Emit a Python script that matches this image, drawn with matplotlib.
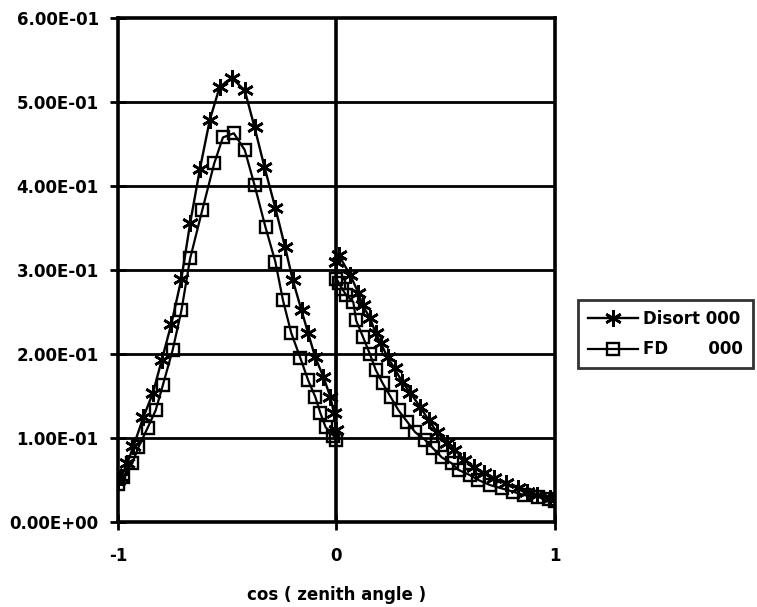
import matplotlib
matplotlib.use("Agg")
import matplotlib.pyplot as plt
from matplotlib.ticker import FixedLocator

# Disort 000
disort_x = [-1.0, -0.986, -0.958, -0.93, -0.884, -0.84, -0.80, -0.756, -0.71, -0.67,
            -0.625, -0.58, -0.535, -0.48, -0.42, -0.375, -0.33, -0.28, -0.235, -0.20,
            -0.16, -0.13, -0.097, -0.06, -0.028, -0.012, -0.003,
            0.0, 0.01, 0.063, 0.10, 0.12, 0.153, 0.18, 0.203, 0.234, 0.266, 0.30,
            0.338, 0.383, 0.423, 0.46, 0.505, 0.54, 0.586, 0.63, 0.676, 0.72,
            0.775, 0.83, 0.874, 0.92, 0.977, 1.0]
disort_y = [0.050, 0.054, 0.070, 0.090, 0.125, 0.154, 0.193, 0.236, 0.290, 0.356,
            0.421, 0.479, 0.518, 0.529, 0.514, 0.470, 0.423, 0.374, 0.327, 0.288,
            0.252, 0.225, 0.196, 0.173, 0.149, 0.130, 0.110,
            0.310, 0.318, 0.294, 0.273, 0.258, 0.243, 0.225, 0.213, 0.196, 0.183, 0.167,
            0.154, 0.137, 0.121, 0.107, 0.094, 0.086, 0.074, 0.065, 0.058, 0.052,
            0.046, 0.040, 0.036, 0.032, 0.029, 0.027]

# FD 000
fd_x = [-1.0, -0.977, -0.935, -0.907, -0.865, -0.828, -0.795, -0.75, -0.71, -0.67,
        -0.615, -0.56, -0.52, -0.47, -0.42, -0.375, -0.325, -0.28, -0.245, -0.207,
        -0.165, -0.13, -0.097, -0.074, -0.05, -0.014, -0.004,
        0.0, 0.01, 0.025, 0.045, 0.077, 0.09, 0.122, 0.153, 0.18, 0.212, 0.248,
        0.284, 0.325, 0.36, 0.405, 0.441, 0.482, 0.527, 0.559, 0.61, 0.65,
        0.703, 0.757, 0.81, 0.86, 0.923, 0.973, 1.0]
fd_y = [0.045, 0.054, 0.070, 0.089, 0.112, 0.133, 0.163, 0.205, 0.252, 0.314,
        0.371, 0.427, 0.458, 0.463, 0.443, 0.401, 0.351, 0.310, 0.264, 0.225,
        0.195, 0.169, 0.149, 0.130, 0.113, 0.103, 0.098,
        0.290, 0.285, 0.278, 0.270, 0.262, 0.240, 0.220, 0.200, 0.181, 0.165, 0.149,
        0.133, 0.119, 0.107, 0.098, 0.088, 0.077, 0.070, 0.062, 0.056, 0.050,
        0.044, 0.040, 0.036, 0.032, 0.030, 0.027, 0.025]

y_ticks = [0.0, 0.1, 0.2, 0.3, 0.4, 0.5, 0.6]
y_tick_labels = ["0.00E+00", "1.00E-01", "2.00E-01", "3.00E-01", "4.00E-01", "5.00E-01", "6.00E-01"]
x_ticks = [-1, 0, 1]
x_tick_labels = ["-1", "0", "1"]

plt.rcParams['font.family'] = ['DejaVu Sans']
plt.rcParams['font.weight'] = 'bold'
FS = 12

fig = plt.figure(figsize=(7.57, 6.07), dpi=100)
ax = fig.add_axes([0.156, 0.140, 0.577, 0.830])

ax.set_xlim(-1, 1)
ax.set_ylim(0, 0.6)

for y in y_ticks[1:-1]:
    ax.axhline(y, color='black', lw=2.0, zorder=1)
ax.axvline(0, color='black', lw=2.6, zorder=1)

ax.plot(disort_x, disort_y, color='black', lw=1.7, marker=(6, 2, 0), markersize=12,
        markeredgewidth=1.9, label='Disort 000', zorder=3)
ax.plot(fd_x, fd_y, color='black', lw=1.6, marker='s', markersize=9,
        markerfacecolor='none', markeredgewidth=1.7, label='FD       000', zorder=3)

ax.yaxis.set_major_locator(FixedLocator(y_ticks))
ax.set_yticklabels(y_tick_labels)
ax.xaxis.set_major_locator(FixedLocator(x_ticks))
ax.set_xticklabels(x_tick_labels)
ax.tick_params(axis='both', direction='inout', length=12, width=2, labelsize=FS)
ax.tick_params(axis='y', pad=8)
ax.tick_params(axis='x', pad=12)
for lab in ax.get_xticklabels() + ax.get_yticklabels():
    lab.set_fontweight('bold')

for s in ax.spines.values():
    s.set_linewidth(2.6)
    s.set_color('black')

ax.set_xlabel("cos ( zenith angle )", fontsize=FS, fontweight='bold', labelpad=15)

leg = fig.legend(loc='lower left', bbox_to_anchor=(0.763, 0.393), frameon=True,
                 fancybox=False, edgecolor='black', fontsize=FS, handlelength=3.0,
                 handletextpad=0.35, borderpad=0.6, labelspacing=0.75, borderaxespad=0)
leg.get_frame().set_linewidth(2.0)
for t in leg.get_texts():
    t.set_fontweight('bold')

fig.savefig("out.png", dpi=100)
